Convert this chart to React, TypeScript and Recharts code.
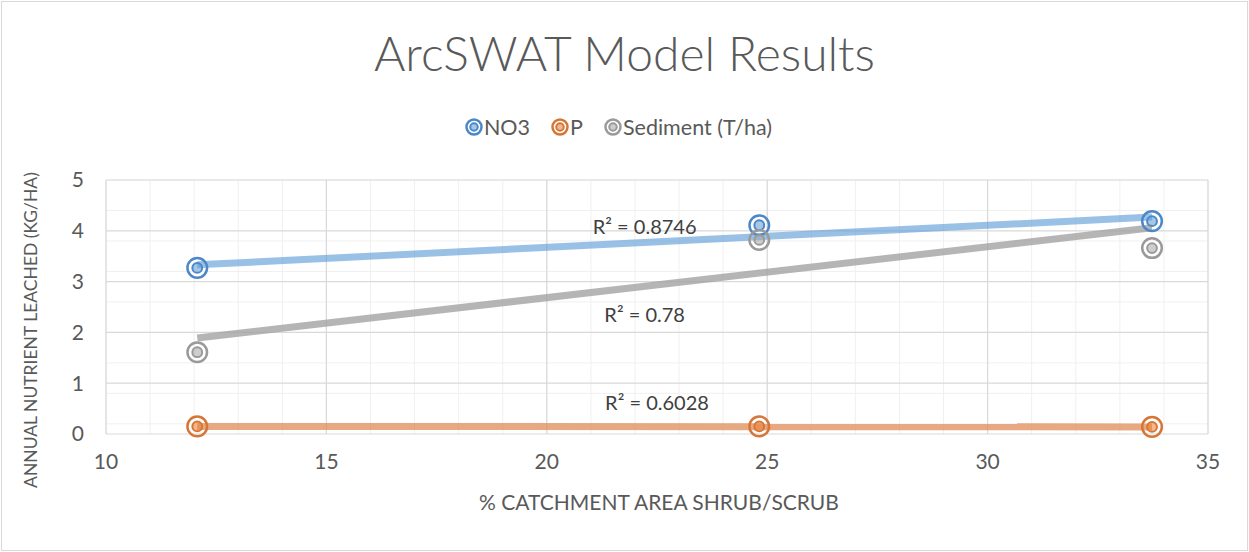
import {
  CartesianGrid,
  ComposedChart,
  Line,
  ReferenceDot,
  Scatter,
  XAxis,
  YAxis,
} from "recharts";

const shrubPct = [12.07, 24.82, 33.73];
const no3 = [3.27, 4.11, 4.19];
const phosphorus = [0.15, 0.15, 0.14];
const sediment = [1.61, 3.82, 3.66];

// trendline end points as drawn on the chart
const trendX = [12.07, 33.73];
const no3Trend = [3.33, 4.27];
const pTrend = [0.15, 0.14];
const sedimentTrend = [1.89, 4.06];

const r2Labels = ["R² = 0.8746", "R² = 0.78", "R² = 0.6028"];
const r2X = [22.22, 22.22, 22.5];
const r2Y = [4.08, 2.34, 0.61];

const xTicks = [10, 15, 20, 25, 30, 35];
const yTicks = [0, 1, 2, 3, 4, 5];
const xMinor = Array.from({ length: 26 }, (_, i) => 10 + i);
const yMinor = Array.from({ length: 26 }, (_, i) => +(i * 0.2).toFixed(1));

const series = [
  { name: "NO3", values: no3, trend: no3Trend, color: "#5B9BD5", ring: "#4C88C8", line: "rgba(91,155,213,0.62)" },
  { name: "P", values: phosphorus, trend: pTrend, color: "#ED7D31", ring: "#D67636", line: "rgba(224,140,88,0.75)" },
  { name: "Sediment (T/ha)", values: sediment, trend: sedimentTrend, color: "#A5A5A5", ring: "#9A9A9A", line: "rgba(160,160,160,0.78)" },
];

const font = "Lato, 'Open Sans', sans-serif";

function Ring({ cx, cy, color, ring, r = 9.8 }: any) {
  if (cx == null || cy == null) return null;
  return (
    <g>
      <circle cx={cx} cy={cy} r={r} fill="none" stroke={ring} strokeWidth={2.5} />
      <circle cx={cx} cy={cy} r={r * 0.5} fill={color} fillOpacity={0.55} stroke={ring} strokeWidth={2} />
    </g>
  );
}

function ChartLegend() {
  return (
    <div
      style={{
        position: "absolute",
        left: -6,
        width: 1249,
        top: 114,
        display: "flex",
        justifyContent: "center",
        gap: 21,
        fontSize: 21.5,
        color: "#595959",
      }}
    >
      {series.map((s) => (
        <div key={s.name} style={{ display: "flex", alignItems: "center" }}>
          <svg width={18} height={18} style={{ marginRight: 1 }}>
            <Ring cx={9} cy={9} r={7.5} color={s.color} ring={s.ring} />
          </svg>
          <span>{s.name}</span>
        </div>
      ))}
    </div>
  );
}

export default function App() {
  return (
    <div style={{ position: "absolute", left: 0, top: 0, width: 1249, height: 552, background: "#fff", fontFamily: font }}>
      <div style={{ position: "absolute", left: 1, top: 1, width: 1245, height: 548, border: "1px solid #D9D9D9" }} />
      <div style={{ position: "absolute", left: 0, width: 1249, top: 24, textAlign: "center", fontSize: 48, fontWeight: 300, color: "#595959", lineHeight: 1.2 }}>
        ArcSWAT Model Results
      </div>
      <ChartLegend />
      <div
        style={{
          position: "absolute",
          left: 30,
          top: 330,
          transform: "translate(-50%, -50%) rotate(-90deg)",
          whiteSpace: "nowrap",
          fontSize: 17.5,
          color: "#595959",
        }}
      >
        ANNUAL NUTRIENT LEACHED (KG/HA)
      </div>
      <div style={{ position: "absolute", left: 0, width: 1318, top: 489, textAlign: "center", fontSize: 21, color: "#595959" }}>
        % CATCHMENT AREA SHRUB/SCRUB
      </div>
      <ComposedChart width={1249} height={552} margin={{ top: 180, right: 41, bottom: 58, left: 0 }} style={{ position: "absolute", left: 0, top: 0 }}>
        <CartesianGrid stroke="#F0F0F0" strokeWidth={1} verticalValues={xMinor} horizontalValues={yMinor} />
        <CartesianGrid stroke="#D9D9D9" strokeWidth={1.2} verticalValues={xTicks} horizontalValues={yTicks} />
        <XAxis
          type="number"
          dataKey="x"
          domain={[10, 35]}
          ticks={xTicks}
          axisLine={false}
          tickLine={false}
          tick={{ fill: "#595959", fontSize: 21, fontFamily: font }}
          tickMargin={14}
          height={60}
          allowDataOverflow
        />
        <YAxis
          type="number"
          domain={[0, 5]}
          ticks={yTicks}
          axisLine={false}
          tickLine={false}
          tick={{ fill: "#595959", fontSize: 21, fontFamily: font }}
          tickMargin={16}
          width={106}
        />
        {series.map((s) => (
          <Line
            key={s.name + "-trend"}
            data={trendX.map((x, i) => ({ x, y: s.trend[i] }))}
            dataKey="y"
            stroke={s.line}
            strokeWidth={7}
            dot={false}
            activeDot={false}
            legendType="none"
            isAnimationActive={false}
          />
        ))}
        {series.map((s) => (
          <Scatter
            key={s.name}
            name={s.name}
            data={shrubPct.map((x, i) => ({ x, y: s.values[i] }))}
            dataKey="y"
            shape={(p: any) => <Ring cx={p.cx} cy={p.cy} color={s.color} ring={s.ring} />}
            isAnimationActive={false}
          />
        ))}
        {r2Labels.map((t, i) => (
          <ReferenceDot
            key={t}
            x={r2X[i]}
            y={r2Y[i]}
            r={0}
            stroke="none"
            label={{ value: t, position: "center", fill: "#404040", fontSize: 20, fontFamily: font }}
          />
        ))}
      </ComposedChart>
    </div>
  );
}
